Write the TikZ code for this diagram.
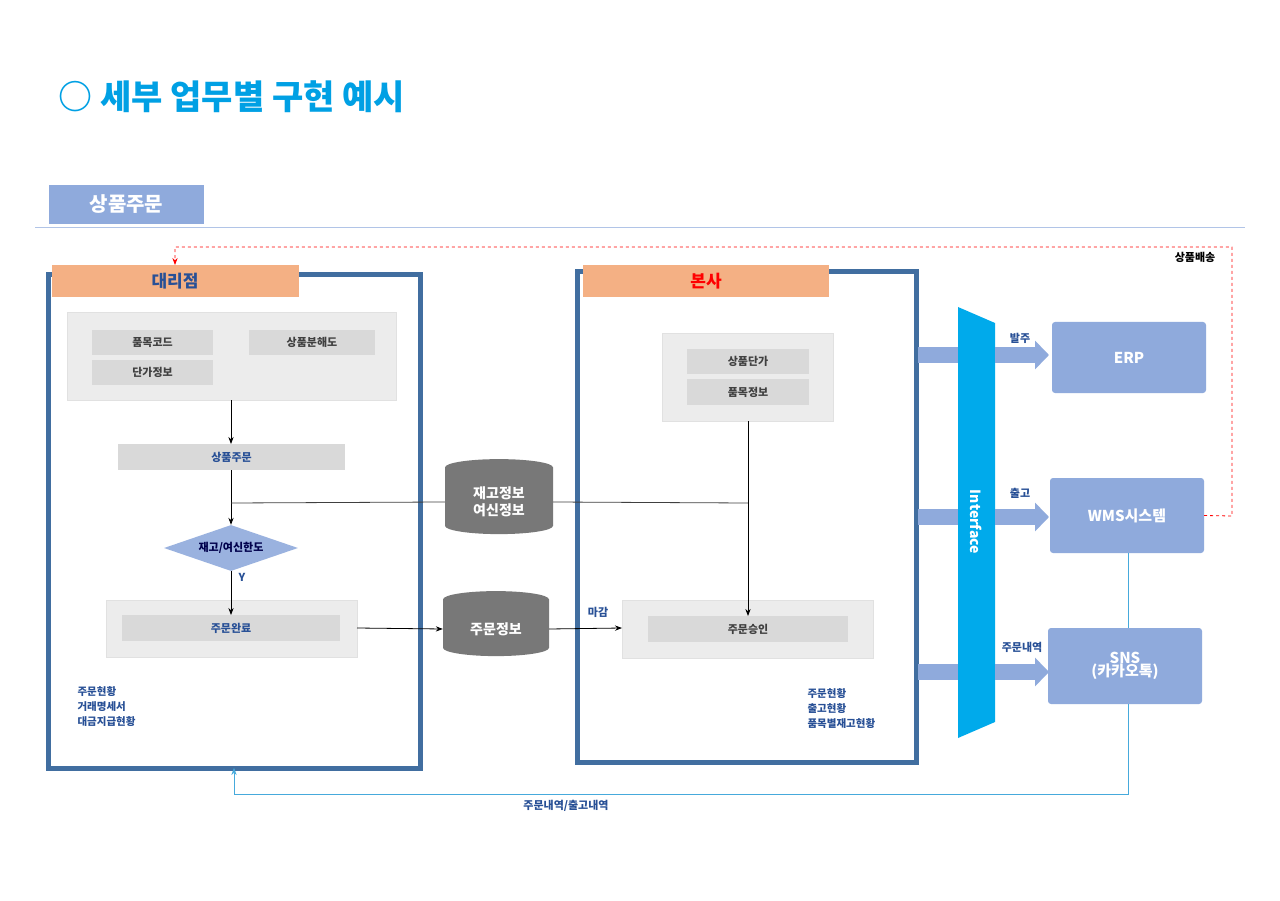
\documentclass[tikz,border=0pt]{standalone}
\usepackage{fontspec}
\setmainfont{Noto Sans CJK KR}
\usetikzlibrary{shapes.geometric,arrows.meta}
\definecolor{cy}{RGB}{0,160,228}
\definecolor{tabb}{RGB}{143,170,220}
\definecolor{frm}{RGB}{65,110,160}
\definecolor{org}{RGB}{244,176,132}
\definecolor{pan}{RGB}{236,236,236}
\definecolor{sub}{RGB}{217,217,217}
\definecolor{txb}{RGB}{40,80,150}
\definecolor{cyl}{RGB}{120,120,120}
\definecolor{ifc}{RGB}{0,170,235}
\definecolor{lnb}{RGB}{70,170,220}
\begin{document}
\begin{tikzpicture}[x=1pt,y=-1pt,
  box/.style={draw=none,fill=#1,inner sep=0},
  lbl/.style={font=\bfseries\fontsize{11}{12}\selectfont,text=txb},
  sml/.style={font=\bfseries\fontsize{10.5}{15}\selectfont,text=txb,align=left},
  cylz/.style={cylinder,shape border rotate=90,aspect=0.3,fill=cyl,draw=none,text=white,font=\bfseries\fontsize{14}{17}\selectfont,align=center,minimum width=#1,inner sep=2},
  sys/.style={rounded corners=3,fill=tabb,text=white,font=\bfseries\fontsize{15}{16}\selectfont,align=center},
  fat/.style={line width=16pt,draw=tabb},
  arr/.style={-{Stealth[length=7pt]},thick}]
\useasboundingbox (0,0) rectangle (1280,901);
\fill[white] (0,0) rectangle (1280,901);
\node[anchor=west,text=cy,font=\bfseries\fontsize{34}{36}\selectfont] (title) at (55,97) {○ 세부 업무별 구현 예시};
\fill[tabb] (49,185) rectangle (204,224);
\node[text=white,font=\bfseries\fontsize{20}{22}\selectfont] (tab) at (126.5,204.5) {상품주문};
\draw[tabb!70,thin] (35,227) -- (1245,227);
% left frame
\draw[frm,line width=5pt] (48,275) rectangle (420,768);
\fill[org] (52,265) rectangle (299,297);
\node[text=txb,font=\bfseries\fontsize{17}{18}\selectfont] (dl) at (175,281) {대리점};
\fill[pan] (67,312) rectangle (396,400);
\draw[sub!80] (67,312) rectangle (396,400);
\fill[sub] (92,330) rectangle (213,355); \node[lbl,text=black!75] (a1) at (152.5,342.5) {품목코드};
\fill[sub] (92,360) rectangle (213,385); \node[lbl,text=black!75] (a2) at (152.5,372.5) {단가정보};
\fill[sub] (249,330) rectangle (375,355); \node[lbl,text=black!75] (a3) at (312,342.5) {상품분해도};
\coordinate (pb) at (231,400);
\fill[sub] (118,444) rectangle (345,470); \node[lbl] (ord) at (231.5,457) {상품주문};
\coordinate (ordt) at (231,444); \coordinate (ordb) at (231,470);
\node[diamond,fill=tabb!90,minimum width=134,minimum height=46,aspect=2.9,inner sep=0,font=\bfseries\fontsize{11}{12}\selectfont,text=black!70!blue] (dia) at (231,548) {재고/여신한도};
\node[lbl] (y) at (242,577) {Y};
\fill[pan] (106,600) rectangle (357,657); \draw[sub!80] (106,600) rectangle (357,657);
\fill[sub] (122,615) rectangle (340,641); \node[lbl] (done) at (231,628) {주문완료};
\coordinate (donet) at (231,615); \coordinate (doner) at (357,628);
\node[sml,anchor=north west] (lt) at (74,683) {주문현황\\거래명세서\\대금지급현황};
\draw[arr] (pb) -- (ordt);
\draw[arr] (ordb) -- (dia.north);
\draw[arr] (dia.south) -- (donet);
% right frame
\draw[frm,line width=5pt] (577,272) rectangle (916,762);
\fill[org] (583,265) rectangle (829,297);
\node[text=red,font=\bfseries\fontsize{17}{18}\selectfont] (bs) at (706,281) {본사};
\fill[pan] (662,333) rectangle (833,421); \draw[sub!80] (662,333) rectangle (833,421);
\fill[sub] (687,349) rectangle (809,374); \node[lbl,text=black!75] (b1) at (748,361.5) {상품단가};
\fill[sub] (687,379) rectangle (809,405); \node[lbl,text=black!75] (b2) at (748,392) {품목정보};
\coordinate (pb2) at (748,421);
\fill[pan] (622,600) rectangle (873,658); \draw[sub!80] (622,600) rectangle (873,658);
\fill[sub] (648,616) rectangle (848,642); \node[lbl,text=black!75] (app) at (748,629) {주문승인};
\coordinate (appt) at (748,616); \coordinate (appl) at (622,628);
\node[lbl] (mg) at (598,612) {마감};
\node[sml,anchor=north west] (rt) at (804,685) {주문현황\\출고현황\\품목별재고현황};
% cylinders
\node[cylz=108,minimum height=75] (c1) at (499,502) {재고정보\\여신정보};
\node[cylz=106,minimum height=65] (c2) at (496,629) {주문정보};
\coordinate (j) at (231,503); \coordinate (j2) at (748,503);
\draw[thick,black!75] (j) -- (c1.west) (c1.east) -- (j2);
\draw[thick] (pb2) -- (j2);
\draw[arr] (j2) -- (appt);
\draw[arr] (doner) -- (c2.west);
\draw[arr] (c2.east) -- (appl);
% interface
\fill[ifc] (958,307) -- (995,323) -- (995,722) -- (958,738) -- cycle;
\node[rotate=-90,text=white,font=\bfseries\fontsize{14}{15}\selectfont] (ifn) at (976,522) {Interface};
% systems
\node[sys,minimum width=154,minimum height=71] (erp) at (1129,357.5) {ERP};
\node[sys,minimum width=154,minimum height=75] (wms) at (1127,515.5) {WMS시스템};
\node[sys,minimum width=154,minimum height=76] (sns) at (1125,666) {SNS\\[-3pt](카카오톡)};
\foreach \yy in {355,517,672}{
  \draw[fat] (918,\yy) -- (958,\yy);
  \draw[fat,-{Triangle[length=14pt,width=28pt]}] (995,\yy) -- (1049,\yy);
}
\node[lbl] (l1) at (1020,338) {발주};
\node[lbl] (l2) at (1020,493) {출고};
\node[lbl] (l3) at (1022,647) {주문내역};
% red dashed
\coordinate (r1) at (1232,516); \coordinate (r2) at (1232,247); \coordinate (r3) at (175,247);
\draw[red,dashed,thick,-{Stealth[length=7pt]}] (wms.east) -- (r1) -- (r2) -- (r3) -- (175,265);
\node[font=\bfseries\fontsize{11}{12}\selectfont] (sb) at (1195,257) {상품배송};
% blue line
\coordinate (q1) at (1128,794); \coordinate (q2) at (234,794);
\draw[lnb] (1128,553) -- (1128,628);
\draw[lnb,-{Stealth[length=7pt]}] (1128,704) -- (q1) -- (q2) -- (234,768);
\node[lbl] (bl) at (566,806) {주문내역/출고내역};
\end{tikzpicture}
\end{document}
